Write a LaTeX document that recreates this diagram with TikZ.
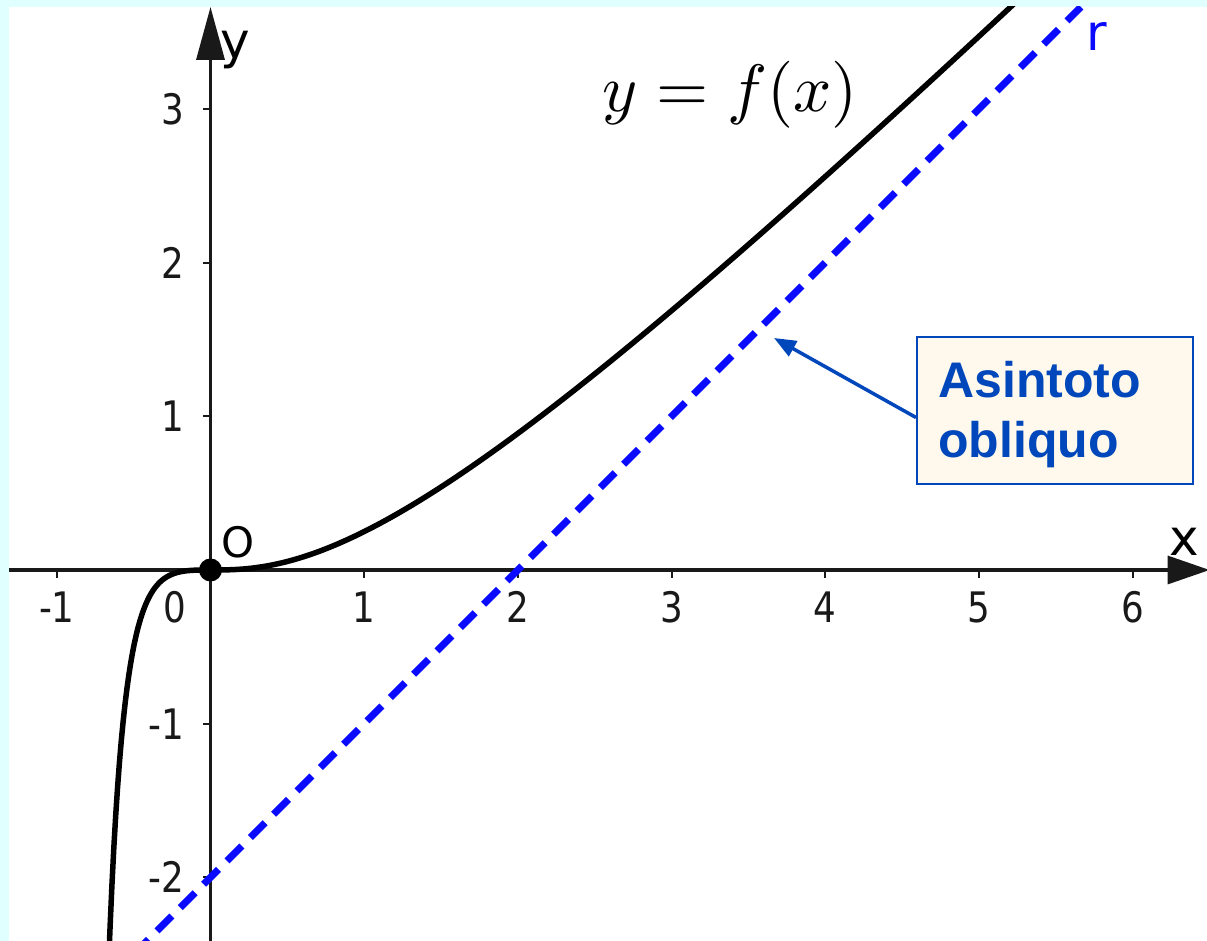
\documentclass[tikz,border=0pt]{standalone}
\usepackage{fontspec}
\usepackage{graphicx}
\newfontfamily\lblfont{DejaVu Sans}
\newfontfamily\tickfont[FakeStretch=0.85]{DejaVu Sans}
\newfontfamily\boxfont{Liberation Sans}
\usetikzlibrary{arrows.meta}
\definecolor{bgcyan}{RGB}{224,255,255}
\definecolor{boxblue}{RGB}{0,71,187}
\definecolor{boxfill}{RGB}{254,249,236}
\definecolor{asyblue}{RGB}{10,10,255}
\definecolor{axisgray}{RGB}{25,25,25}
\tikzset{
  axisline/.style={draw=axisgray, line width=3.5pt},
  tickmark/.style={draw=axisgray, line width=2pt},
  ticklbl/.style={inner sep=0pt, font=\tickfont\fontsize{42}{44}\selectfont, text=axisgray},
  axislbl/.style={inner sep=0pt, font=\lblfont\fontsize{50}{52}\selectfont},
  curve/.style={draw=black, line width=5.5pt},
  asym/.style={draw=asyblue, line width=7pt, dash pattern=on 21pt off 12pt},
  calloutbox/.style={draw=boxblue, line width=2pt, fill=boxfill, inner sep=0pt},
  callouttext/.style={inner sep=0pt, text=boxblue, font=\boxfont\bfseries\fontsize{50}{60}\selectfont},
  callout/.style={draw=boxblue, line width=3.5pt, -{Triangle[length=22pt,width=17pt]}}
}
\begin{document}
\begin{tikzpicture}[x=1pt,y=1pt]
\useasboundingbox (0,0) rectangle (1207,941);
\fill[bgcyan] (0,0) rectangle (1207,941);
\fill[white] (9,0) rectangle (1207,934);
\begin{scope}[shift={(210.5,371)}, x=153.7pt, y=153.7pt]
  \coordinate (xl) at (-1.311,0);
  \coordinate (xr) at (6.50,0);
  \coordinate (yb) at (0,-2.414);
  \coordinate (yt) at (0,3.663);
  % ticks
  \foreach \k in {-1,1,2,3,4,5,6} {
    \draw[tickmark] (\k,0) -- ++(0,-8pt);
    \node[ticklbl] (xt\k) at (\k,-0.2407) {\k};
  }
  \node[ticklbl] (xt0) at (-0.231,-0.2407) {0};
  \foreach \k in {-2,-1,1,2,3} {
    \draw[tickmark] (0,\k) -- ++(-8pt,0);
    \node[ticklbl, anchor=east] (yt\k) at (-0.172,\k) {\k};
  }
  \draw[axisline, -{Triangle[length=42pt,width=28pt]}] (xl) -- (xr);
  \draw[axisline, -{Triangle[length=53pt,width=28pt]}] (yb) -- (yt);
  \begin{scope}
    \clip (-1.311,-2.414) rectangle (6.50,3.663);
    \coordinate (a1) at (-0.5,-2.5);
    \coordinate (a2) at (5.663,3.663);
    \draw[asym] (a1) -- (a2);
    \draw[curve] plot[domain=-0.69:5.4, samples=500] (\x, {(\x)*(\x)*(\x)/((\x+1)*(\x+1))});
  \end{scope}
  \fill[black] (0,0) circle (11.5pt);
  \node[axislbl] (lO) at (0.179,0.182) {\fontsize{42}{44}\selectfont O};
  \node[axislbl] (ly) at (0.159,3.383) {y};
  \node[axislbl] (lx) at (6.334,0.182) {x};
  \node[axislbl, text=asyblue] (lr) at (5.768,3.468) {r};
  \node[inner sep=0pt] (feq) at (3.380,3.090) {\scalebox{6.7}{$y = f(x)$}};
\end{scope}
\node[calloutbox, anchor=north west, minimum width=276pt, minimum height=147pt] (box) at (916,605) {};
\node[callouttext, anchor=base west] (t1) at (938,543) {Asintoto};
\node[callouttext, anchor=base west] (t2) at (938,483) {obliquo};
\coordinate (tip) at (774,603);
\draw[callout] ([yshift=-7pt]box.west) -- (tip);
\end{tikzpicture}
\end{document}
